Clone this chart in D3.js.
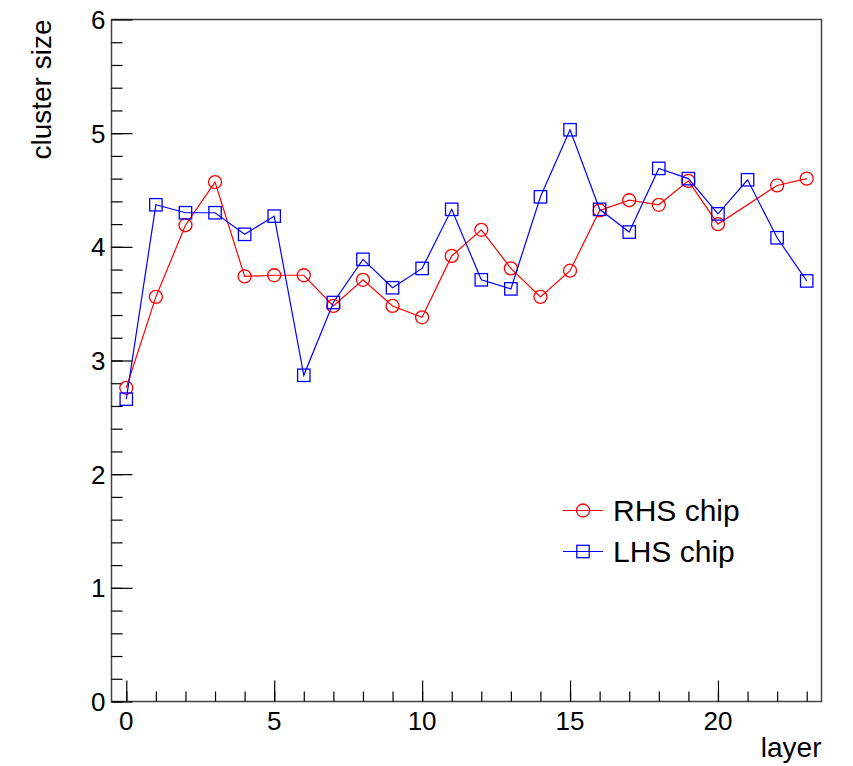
<!DOCTYPE html>
<html>
<head>
<meta charset="utf-8">
<script src="https://cdn.jsdelivr.net/npm/d3@7"></script>
<style>
  body { margin: 0; background: #fff; }
  text { font-family: "Liberation Sans", Arial, Helvetica, sans-serif; fill: #000; }
</style>
</head>
<body>
<div id="chart"></div>
<script>
// RHS chip has no point at layer 21
let rhsLayers = [0, 1, 2, 3, 4, 5, 6, 7, 8, 9, 10, 11, 12, 13, 14, 15, 16, 17, 18, 19, 20, 22, 23];
let rhsValues = [2.76, 3.56, 4.19, 4.57, 3.74, 3.75, 3.75, 3.48, 3.71, 3.48, 3.38, 3.92, 4.15, 3.81, 3.56, 3.79, 4.32, 4.41, 4.37, 4.58, 4.20, 4.54, 4.60];

let lhsLayers = [0, 1, 2, 3, 4, 5, 6, 7, 8, 9, 10, 11, 12, 13, 14, 15, 16, 17, 18, 19, 20, 21, 22, 23];
let lhsValues = [2.66, 4.37, 4.30, 4.30, 4.11, 4.27, 2.87, 3.51, 3.89, 3.64, 3.81, 4.33, 3.71, 3.63, 4.44, 5.03, 4.33, 4.13, 4.69, 4.60, 4.29, 4.59, 4.08, 3.70];

let xTickLabels = [0, 5, 10, 15, 20];
let yTickLabels = [0, 1, 2, 3, 4, 5, 6];

let series = [
  { name: "RHS chip", color: "#ff0000", marker: "circle", layers: rhsLayers, values: rhsValues },
  { name: "LHS chip", color: "#0000ff", marker: "square", layers: lhsLayers, values: lhsValues },
];

let margin = { top: 19.5, left: 111.5, right: 31.5, bottom: 64.5 };
let width = 853 - margin.left - margin.right;
let height = 766 - margin.top - margin.bottom;

let svg = d3
  .select("#chart")
  .append("svg")
  .attr("width", 853)
  .attr("height", 766);

let g = svg.append("g").attr("transform", `translate(${margin.left}, ${margin.top})`);

let xScale = d3.scaleLinear().domain([-0.5, 23.5]).range([0, width]);
let yScale = d3.scaleLinear().domain([0, 6]).range([height, 0]);

// frame
g.append("rect")
  .attr("width", width)
  .attr("height", height)
  .attr("fill", "none")
  .attr("stroke", "#444")
  .attr("stroke-width", 1.5);

// x axis: minor ticks at every layer, major every 5, pointing inward
g.append("g")
  .attr("transform", `translate(0, ${height})`)
  .call(d3.axisTop(xScale).tickValues(d3.range(0, 24)).tickSize(10).tickFormat(""))
  .call((a) => a.select(".domain").remove());

g.append("g")
  .attr("transform", `translate(0, ${height})`)
  .call(d3.axisTop(xScale).tickValues(xTickLabels).tickSize(21).tickFormat(""))
  .call((a) => a.select(".domain").remove());

g.append("g")
  .selectAll("text")
  .data(xTickLabels)
  .join("text")
  .attr("x", (d) => xScale(d))
  .attr("y", height + 28)
  .attr("text-anchor", "middle")
  .attr("font-size", 26)
  .text((d) => d);

// y axis: minor ticks every 0.2, major at integers, pointing inward
g.append("g")
  .call(d3.axisRight(yScale).tickValues(d3.range(0, 30).map((i) => i * 0.2)).tickSize(11).tickFormat(""))
  .call((a) => a.select(".domain").remove());

g.append("g")
  .call(d3.axisRight(yScale).tickValues(yTickLabels).tickSize(21).tickFormat(""))
  .call((a) => a.select(".domain").remove());

g.selectAll(".tick line").attr("stroke", "#000").attr("stroke-width", 1.2);

g.append("g")
  .selectAll("text")
  .data(yTickLabels)
  .join("text")
  .attr("x", -6)
  .attr("y", (d) => yScale(d))
  .attr("dy", "0.36em")
  .attr("text-anchor", "end")
  .attr("font-size", 26)
  .text((d) => d);

// axis titles
svg.append("text")
  .attr("x", margin.left + width)
  .attr("y", 757)
  .attr("text-anchor", "end")
  .attr("font-size", 28)
  .text("layer");

svg.append("text")
  .attr("transform", `translate(51, ${margin.top}) rotate(-90)`)
  .attr("text-anchor", "end")
  .attr("font-size", 28)
  .text("cluster size");

// series
let drawMarker = (sel, s, x, y) => {
  if (s.marker === "circle") {
    sel.append("circle")
      .attr("cx", x)
      .attr("cy", y)
      .attr("r", 6.5)
      .attr("fill", "none")
      .attr("stroke", s.color)
      .attr("stroke-width", 1.3);
  } else {
    sel.append("rect")
      .attr("x", x - 6.2)
      .attr("y", y - 6.2)
      .attr("width", 12.4)
      .attr("height", 12.4)
      .attr("fill", "none")
      .attr("stroke", s.color)
      .attr("stroke-width", 1.3);
  }
};

series.forEach((s) => {
  let pts = s.layers.map((l, i) => ({ layer: l, value: s.values[i] }));
  g.append("path")
    .datum(pts)
    .attr("fill", "none")
    .attr("stroke", s.color)
    .attr("stroke-width", 1.2)
    .attr(
      "d",
      d3
        .line()
        .x((d) => xScale(d.layer))
        .y((d) => yScale(d.value))
    );
  let mg = g.append("g");
  pts.forEach((d) => drawMarker(mg, s, xScale(d.layer), yScale(d.value)));
});

// legend
let legend = svg.append("g");
series.forEach((s, i) => {
  let y = 510.5 + i * 41;
  legend.append("line")
    .attr("x1", 563)
    .attr("x2", 603)
    .attr("y1", y)
    .attr("y2", y)
    .attr("stroke", s.color)
    .attr("stroke-width", 1.2);
  drawMarker(legend, s, 583, y);
  legend.append("text")
    .attr("x", 613)
    .attr("y", y)
    .attr("dy", "0.36em")
    .attr("font-size", 30)
    .text(s.name);
});
</script>
</body>
</html>
